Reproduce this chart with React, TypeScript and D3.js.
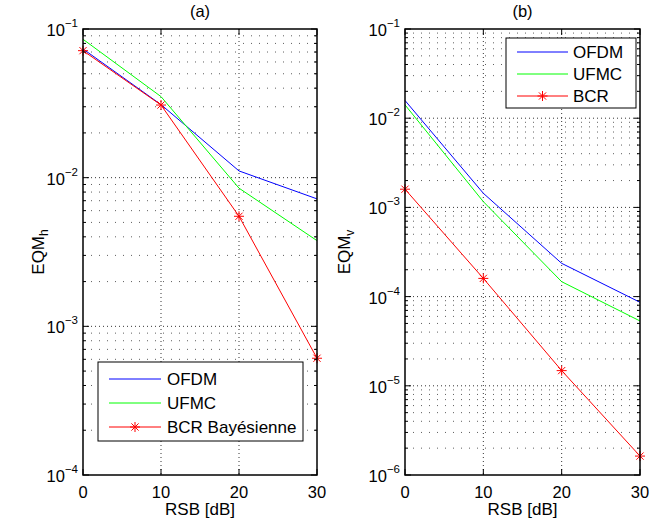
import React from "react";
import * as d3 from "d3";

const snr = [0, 10, 20, 30];
const xTicks = [0, 10, 20, 30];

const ofdmH = [0.0734, 0.031, 0.0111, 0.0072];
const ufmcH = [0.0853, 0.0351, 0.0085, 0.00377];
const bcrH = [0.0715, 0.0308, 0.0055, 0.00061];

const ofdmV = [0.0158, 0.00144, 0.000236, 0.0000863];
const ufmcV = [0.0141, 0.00116, 0.000147, 0.0000533];
const bcrV = [0.0016, 0.00016, 0.0000148, 0.00000163];

const legendH = ["OFDM", "UFMC", "BCR Bayésienne"];
const legendV = ["OFDM", "UFMC", "BCR"];

const FONT = "'Liberation Sans', Arial, Helvetica, sans-serif";
const COLORS = ["#0000ff", "#00ff00", "#ff0000"];

function Star({ x, y, r = 5, color }: { x: number; y: number; r?: number; color: string }) {
  const d = r * 0.72;
  return (
    <g stroke={color} strokeWidth={1}>
      <line x1={x - r} y1={y} x2={x + r} y2={y} />
      <line x1={x} y1={y - r} x2={x} y2={y + r} />
      <line x1={x - d} y1={y - d} x2={x + d} y2={y + d} />
      <line x1={x - d} y1={y + d} x2={x + d} y2={y - d} />
    </g>
  );
}

type PanelProps = {
  left: number;
  right: number;
  top: number;
  bottom: number;
  yMinExp: number;
  yMaxExp: number;
  series: number[][];
  title: string;
  ylabelMain: string;
  ylabelSub: string;
  ylabelX: number;
  legend: string[];
  legendBox: { x: number; y: number; w: number; h: number; lx1: number; lx2: number; tx: number; rows: number[] };
};

function Panel(p: PanelProps) {
  const x = d3.scaleLinear().domain([0, 30]).range([p.left, p.right]);
  const y = d3.scaleLog().domain([Math.pow(10, p.yMinExp), Math.pow(10, p.yMaxExp)]).range([p.bottom, p.top]);
  const majors: number[] = [];
  const minors: number[] = [];
  for (let e = p.yMinExp; e <= p.yMaxExp; e++) {
    majors.push(e);
    if (e < p.yMaxExp) for (let k = 2; k <= 9; k++) minors.push(k * Math.pow(10, e));
  }
  const line = d3
    .line<number>()
    .x((_, i) => x(snr[i]))
    .y((v) => y(v));
  const lb = p.legendBox;
  return (
    <g fontFamily={FONT}>
      {/* grid */}
      <g stroke="#000" strokeWidth={0.8}>
        {xTicks.slice(1, -1).map((t) => (
          <line key={"gx" + t} x1={x(t)} x2={x(t)} y1={p.top} y2={p.bottom} strokeDasharray="1,3" />
        ))}
        {majors.slice(1, -1).map((e) => (
          <line key={"gy" + e} x1={p.left} x2={p.right} y1={y(Math.pow(10, e))} y2={y(Math.pow(10, e))} strokeDasharray="1,3" />
        ))}
        {minors.map((v, i) => (
          <line key={"gm" + i} x1={p.left} x2={p.right} y1={y(v)} y2={y(v)} strokeDasharray="1,7" strokeOpacity={0.8} />
        ))}
      </g>
      {/* series */}
      {p.series.map((s, i) => (
        <path key={"s" + i} d={line(s) || ""} fill="none" stroke={COLORS[i]} strokeWidth={1} />
      ))}
      {p.series[2].map((v, i) => (
        <Star key={"st" + i} x={x(snr[i])} y={y(v)} color={COLORS[2]} />
      ))}
      {/* ticks */}
      <g stroke="#000" strokeWidth={1}>
        {xTicks.map((t) => (
          <g key={"xt" + t}>
            <line x1={x(t)} x2={x(t)} y1={p.bottom} y2={p.bottom - 6} />
            <line x1={x(t)} x2={x(t)} y1={p.top} y2={p.top + 6} />
          </g>
        ))}
        {majors.map((e) => (
          <g key={"yt" + e}>
            <line x1={p.left} x2={p.left + 6} y1={y(Math.pow(10, e))} y2={y(Math.pow(10, e))} />
            <line x1={p.right} x2={p.right - 6} y1={y(Math.pow(10, e))} y2={y(Math.pow(10, e))} />
          </g>
        ))}
        {minors.map((v, i) => (
          <g key={"ym" + i}>
            <line x1={p.left} x2={p.left + 3} y1={y(v)} y2={y(v)} />
            <line x1={p.right} x2={p.right - 3} y1={y(v)} y2={y(v)} />
          </g>
        ))}
      </g>
      {/* box */}
      <rect x={p.left} y={p.top} width={p.right - p.left} height={p.bottom - p.top} fill="none" stroke="#000" strokeWidth={1.5} />
      {/* tick labels */}
      {xTicks.map((t) => (
        <text key={"xl" + t} x={x(t)} y={p.bottom + 23} textAnchor="middle" fontSize={16.5} fill="#000">
          {t}
        </text>
      ))}
      {majors.map((e) => (
        <text key={"yl" + e} x={p.left - 5} y={y(Math.pow(10, e)) + 7} textAnchor="end" fontSize={16.5} fill="#000">
          <tspan>10</tspan>
          <tspan fontSize={11.5} dy={-9}>{"\u2212" + Math.abs(e)}</tspan>
        </text>
      ))}
      {/* axis labels */}
      <text x={(p.left + p.right) / 2} y={p.bottom + 40} textAnchor="middle" fontSize={17} fill="#000">
        RSB [dB]
      </text>
      <text x={(p.left + p.right) / 2} y={17} textAnchor="middle" fontSize={16.5} fill="#000">
        {p.title}
      </text>
      <text
        transform={`translate(${p.ylabelX},${(p.top + p.bottom) / 2}) rotate(-90)`}
        textAnchor="middle"
        fontSize={17}
        fill="#000"
      >
        <tspan>{p.ylabelMain}</tspan>
        <tspan fontSize={12} dy={4}>{p.ylabelSub}</tspan>
      </text>
      {/* legend */}
      <rect x={lb.x} y={lb.y} width={lb.w} height={lb.h} fill="#fff" stroke="#000" strokeWidth={1} />
      {p.legend.map((name, i) => (
        <g key={"lg" + i}>
          <line x1={lb.lx1} x2={lb.lx2} y1={lb.rows[i]} y2={lb.rows[i]} stroke={COLORS[i]} strokeWidth={1} />
          {i === 2 && <Star x={(lb.lx1 + lb.lx2) / 2} y={lb.rows[i]} color={COLORS[2]} />}
          <text x={lb.tx} y={lb.rows[i] + 6} fontSize={17} fill="#000">
            {name}
          </text>
        </g>
      ))}
    </g>
  );
}

export default function App() {
  return (
    <svg width={667} height={527} style={{ position: "absolute", left: 0, top: 0, background: "#fff" }}>
      <rect x={0} y={0} width={667} height={527} fill="#fff" />
      <Panel
        left={83}
        right={317}
        top={29}
        bottom={475}
        yMinExp={-4}
        yMaxExp={-1}
        series={[ofdmH, ufmcH, bcrH]}
        title="(a)"
        ylabelMain="EQM"
        ylabelSub="h"
        ylabelX={44}
        legend={legendH}
        legendBox={{ x: 98, y: 362, w: 205, h: 79, lx1: 109, lx2: 161, tx: 167, rows: [379, 403, 427] }}
      />
      <Panel
        left={405}
        right={640}
        top={29}
        bottom={475}
        yMinExp={-6}
        yMaxExp={-1}
        series={[ofdmV, ufmcV, bcrV]}
        title="(b)"
        ylabelMain="EQM"
        ylabelSub="v"
        ylabelX={350}
        legend={legendV}
        legendBox={{ x: 506, y: 38, w: 130, h: 70, lx1: 517, lx2: 568, tx: 573, rows: [52, 74, 96] }}
      />
    </svg>
  );
}
